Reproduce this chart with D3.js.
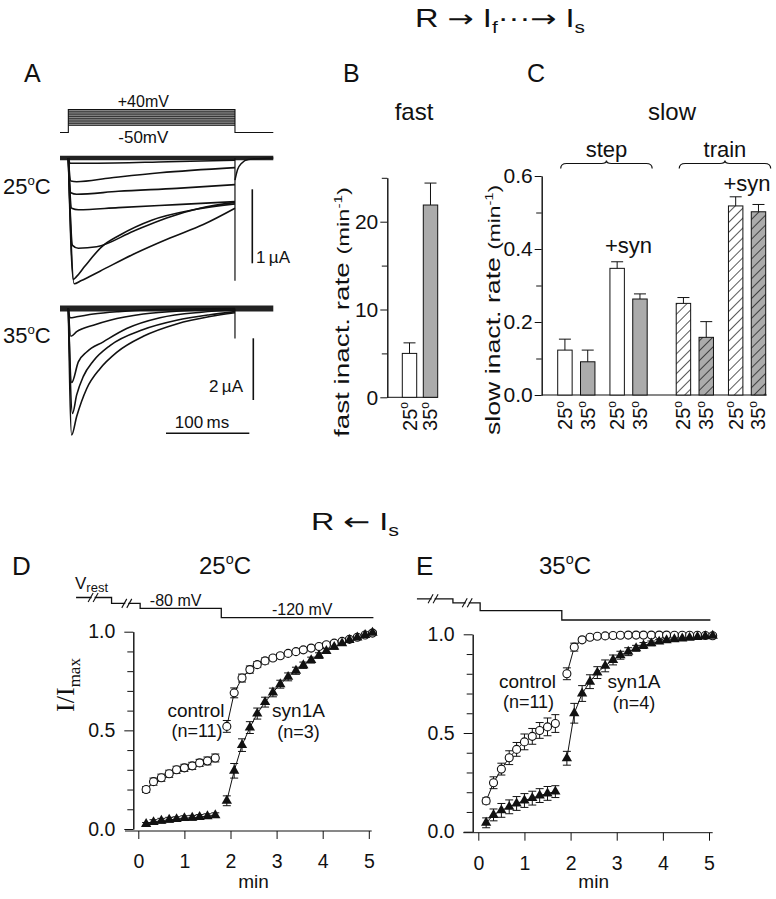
<!DOCTYPE html>
<html><head><meta charset="utf-8"><title>Figure</title>
<script src="https://cdn.jsdelivr.net/npm/d3@7"></script>
<style>
html,body{margin:0;padding:0;background:#fff;}
svg{display:block;}
text{font-family:"Liberation Sans",Arial,Helvetica,sans-serif;fill:#111;}
</style></head>
<body>
<svg id="fig" width="776" height="899" viewBox="0 0 776 899"></svg>
<script>
// ================= DATA =================
// Panel A: voltage protocol (mV)
const pulseLevels = [-50,-40,-30,-20,-10,0,10,20,30,40];
const holdingLevel = -90;
const pulseWindow = [0,200];          // ms
const traceWindow = [-10,246];        // ms
// Panel A current traces: [time ms, inward current µA]
const traces25 = [
  [[0,0],[2,0.07],[30,0.07],[120,0.05],[200,0.03]],
  [[0,0],[3,0.31],[10,0.32],[50,0.27],[110,0.2],[200,0.13]],
  [[0,0],[3,0.47],[10,0.49],[60,0.45],[130,0.41],[200,0.36]],
  [[0,0],[4,0.68],[12,0.7],[60,0.67],[130,0.63],[200,0.59]],
  [[0,0],[5,1.18],[12,1.22],[34,1.2],[78,0.99],[118,0.81],[158,0.68],[200,0.6]],
  [[0,0],[6,1.64],[10,1.6],[20,1.46],[40,1.2],[62,1.04],[100,0.84],[150,0.7],[200,0.62]],
  [[0,0],[7,1.7],[15,1.66],[38,1.53],[78,1.3],[122,1.08],[162,0.9],[200,0.68]]
];
const traces35 = [
  [[0,0],[2,0.3],[10,0.27],[30,0.18],[60,0.1],[100,0.04],[200,0]],
  [[0,0],[3,0.9],[10,0.75],[30,0.54],[50,0.38],[90,0.18],[140,0.07],[200,0.02]],
  [[0,0],[4,2.4],[12,1.73],[22,1.41],[42,1.08],[70,0.65],[110,0.3],[160,0.12],[200,0.05]],
  [[0,0],[5,3.4],[10,2.8],[18,2.2],[30,1.7],[50,1.2],[90,0.68],[130,0.38],[170,0.2],[200,0.1]],
  [[0,0],[4,4.1],[10,3.5],[22,2.6],[38,1.95],[58,1.42],[90,0.9],[130,0.5],[170,0.26],[200,0.14]]
];
const spike25 = 1.66, spike35 = 0.97;
const tail25 = [[200,0.3],[203,0.16],[208,0.07],[216,0.02],[246,0]];
const scaleBar25 = 1, scaleBar35 = 2, timeBar = 100;

// Panel B: fast inactivation rate (min^-1)
const fastTemps = ["25","35"];
const fastRate = [5.0, 21.9];
const fastErr = [1.2, 2.5];
const fastMajorTicks = [0,10,20];
const fastMinorTicks = [5,15,25];

// Panel C: slow inactivation rate (min^-1)
const slowModes = ["step","train"];
const slowConds = ["control","+syn"];
const slowTemps = ["25","35"];
const slowRate = [0.123,0.091,0.347,0.263,0.251,0.158,0.518,0.502];
const slowErr  = [0.030,0.032,0.018,0.014,0.016,0.043,0.025,0.020];
const slowMajorTicks = [0,0.2,0.4,0.6];
const slowMinorTicks = [0.1,0.3,0.5];

// Panels D/E: recovery, I/Imax vs time (min)
const tSeg1 = [0.17,0.33,0.5,0.67,0.83,1.0,1.17,1.33,1.5,1.67];
const tSeg2 = [1.92,2.08,2.25,2.42,2.58,2.75,2.92,3.08,3.25,3.42,3.58,3.75,3.92,4.08,4.25,4.42,4.58,4.75,4.92,5.08];

const ctrl25a = [0.20,0.24,0.26,0.28,0.30,0.31,0.32,0.335,0.345,0.36];
const ctrl25b = [0.52,0.69,0.765,0.808,0.833,0.852,0.867,0.878,0.89,0.899,0.908,0.917,0.925,0.934,0.942,0.951,0.961,0.972,0.983,0.993];
const syn25a  = [0.025,0.035,0.042,0.047,0.05,0.055,0.057,0.061,0.065,0.07];
const syn25b  = [0.143,0.295,0.425,0.514,0.585,0.643,0.692,0.734,0.771,0.802,0.83,0.856,0.879,0.902,0.923,0.941,0.958,0.971,0.983,0.995];
const ctrl25aErr = [0.015,0.018,0.018,0.018,0.018,0.018,0.018,0.018,0.02,0.02];
const ctrl25bErr = [0.03,0.025,0.02,0.018,0.015,0.015,0.012,0.012,0.01,0.01,0.01,0.01,0.01,0.01,0.01,0.01,0.01,0.008,0.008,0.008];
const syn25aErr  = [0.008,0.012,0.012,0.012,0.012,0.012,0.012,0.012,0.012,0.012];
const syn25bErr  = [0.025,0.037,0.032,0.03,0.028,0.025,0.022,0.02,0.02,0.018,0.016,0.015,0.014,0.012,0.012,0.01,0.01,0.01,0.008,0.008];

const ctrl35a = [0.156,0.248,0.317,0.375,0.417,0.455,0.483,0.513,0.531,0.548];
const ctrl35b = [0.80,0.935,0.972,0.985,0.99,0.992,0.994,0.995,0.996,0.996,0.996,0.996,0.996,0.996,0.995,0.995,0.995,0.995,0.994,0.993];
const syn35a  = [0.045,0.085,0.108,0.126,0.143,0.158,0.17,0.183,0.194,0.203];
const syn35b  = [0.372,0.60,0.70,0.76,0.806,0.84,0.87,0.894,0.912,0.929,0.943,0.954,0.963,0.97,0.975,0.979,0.983,0.986,0.99,0.993];
const ctrl35aErr = [0.015,0.03,0.03,0.035,0.035,0.04,0.04,0.04,0.045,0.045];
const ctrl35bErr = [0.03,0.02,0.01,0.008,0.006,0.005,0.005,0.005,0.005,0.005,0.005,0.005,0.005,0.005,0.005,0.005,0.005,0.005,0.005,0.005];
const syn35aErr  = [0.025,0.03,0.035,0.035,0.035,0.035,0.035,0.035,0.035,0.03];
const syn35bErr  = [0.035,0.05,0.04,0.035,0.03,0.03,0.025,0.02,0.02,0.015,0.015,0.012,0.01,0.01,0.01,0.008,0.008,0.008,0.008,0.008];

const recXTicks = [0,1,2,3,4,5];
const recYMajor = [0,0.5,1];
const recYMinor = [0.1,0.2,0.3,0.4,0.6,0.7,0.8,0.9];

// Protocols for D/E: [time min, mV] (step after)
const protoD = [[-1.35,-34],[-0.58,-59],[0.04,-80],[1.8,-120],[5.1,-120]];
const protoE = [[-1.33,-30],[-0.55,-47],[0.04,-80],[1.81,-120],[5.03,-120]];
const breaksD = [-0.98,-0.25];
const breaksE = [-0.98,-0.24];

// ================= DRAW =================
const FONT = "Liberation Sans, Arial, Helvetica, sans-serif";
const SERIF = "Liberation Serif, Times New Roman, serif";
const ARROWFONT = "DejaVu Sans, sans-serif";
const INK = "#111";
const svg = d3.select("#fig");
const defs = svg.append("defs");
defs.append("pattern").attr("id","hatch").attr("patternUnits","userSpaceOnUse")
  .attr("width",7).attr("height",7).attr("patternTransform","rotate(45)")
  .append("line").attr("x1",0).attr("y1",0).attr("x2",0).attr("y2",7)
  .attr("stroke",INK).attr("stroke-width",1.4);

function label(g, x, y, parts, size, anchor, extra) {
  const t = g.append("text").attr("x",x).attr("y",y).attr("font-size",size)
    .attr("text-anchor",anchor||"start");
  parts.forEach(p => {
    if (typeof p === "string") t.append("tspan").text(p);
    else {
      const s = t.append("tspan").text(p.t);
      if (p.size) s.attr("font-size",p.size);
      if (p.dy) s.attr("dy",p.dy);
      if (p.family) s.attr("font-family",p.family);
    }
  });
  if (extra) extra(t);
  return t;
}
const deg = (n, size) => [n, {t:"o", size:size*0.6, dy:-size*0.42}];
const degC = (n, size) => deg(n,size).concat([{t:"C", dy:size*0.42}]);

// ---- header texts ----
label(svg, 500, 27, ["R ", {t:"\u2192",size:24,family:ARROWFONT}, " I", {t:"f",size:16,dy:6}, {t:"\u00B7\u00B7\u00B7",dy:-6}, {t:"\u2192",size:24,family:ARROWFONT}, " I", {t:"s",size:16,dy:6}], 25, "middle",
  t => t.attr("textLength",170).attr("lengthAdjust","spacingAndGlyphs"));
label(svg, 355, 530, ["R ", {t:"\u2190",size:24,family:ARROWFONT}, " I", {t:"s",size:16,dy:6}], 24, "middle",
  t => t.attr("textLength",88).attr("lengthAdjust","spacingAndGlyphs"));

// ---- Panel A ----
const gA = svg.append("g");
label(gA, 24, 82, ["A"], 25);
const tA = d3.scaleLinear().domain(traceWindow).range([60,273.3]);
const vA = d3.scaleLinear().domain([holdingLevel,40]).range([132.5,109.5]);
const vMax = d3.max(pulseLevels), vMin = d3.min(pulseLevels);
gA.append("rect").attr("x",tA(pulseWindow[0])).attr("width",tA(pulseWindow[1])-tA(pulseWindow[0]))
  .attr("y",vA(vMax)).attr("height",vA(vMin)-vA(vMax)).attr("fill","#a0a0a0");
gA.selectAll(".lvl").data(pulseLevels).join("line")
  .attr("x1",tA(pulseWindow[0])).attr("x2",tA(pulseWindow[1]))
  .attr("y1",d=>vA(d)).attr("y2",d=>vA(d)).attr("stroke","#222").attr("stroke-width",0.9);
const protoA = [[traceWindow[0],holdingLevel],[pulseWindow[0],holdingLevel],[pulseWindow[0],vMax],
  [pulseWindow[1],vMax],[pulseWindow[1],holdingLevel],[traceWindow[1],holdingLevel]];
gA.append("path").attr("d", d3.line().x(d=>tA(d[0])).y(d=>vA(d[1]))(protoA))
  .attr("fill","none").attr("stroke",INK).attr("stroke-width",1.1);
label(gA, tA(90), 107, ["+40mV"], 16, "middle");
label(gA, tA(90), 143, ["-50mV"], 17, "middle");

const yA25 = d3.scaleLinear().domain([0,1]).range([158,232]);
const yA35 = d3.scaleLinear().domain([0,1]).range([308.5,339.35]);
function drawTraces(ys, traces, spike, bandW) {
  const ln = d3.line().x(d=>tA(d[0])).y(d=>ys(d[1])).curve(d3.curveMonotoneX);
  gA.append("path").attr("d", ln([[traceWindow[0],0],[traceWindow[1],0]]))
    .attr("fill","none").attr("stroke","#222").attr("stroke-width",bandW);
  traces.forEach(tr => gA.append("path").attr("d", ln(tr)).attr("fill","none")
    .attr("stroke",INK).attr("stroke-width",1.6).attr("stroke-linejoin","round"));
  gA.append("line").attr("x1",tA(pulseWindow[1])).attr("x2",tA(pulseWindow[1]))
    .attr("y1",ys(0)).attr("y2",ys(spike)).attr("stroke",INK).attr("stroke-width",1.2);
  return ln;
}
const ln25 = drawTraces(yA25, traces25, spike25, 4.5);
gA.append("path").attr("d", ln25(tail25)).attr("fill","none").attr("stroke",INK).attr("stroke-width",1.5);
drawTraces(yA35, traces35, spike35, 6);

label(gA, 3, 194, degC("25",22), 22);
label(gA, 3, 343, degC("35",22), 22);
// scale bars
gA.append("line").attr("x1",252.3).attr("x2",252.3).attr("y1",189.3)
  .attr("y2",189.3 + (yA25(scaleBar25)-yA25(0))).attr("stroke",INK).attr("stroke-width",1.6);
label(gA, 256, 263, ["1\u2009\u00B5A"], 17);
gA.append("line").attr("x1",253.3).attr("x2",253.3).attr("y1",338.3)
  .attr("y2",338.3 + (yA35(scaleBar35)-yA35(0))).attr("stroke",INK).attr("stroke-width",1.6);
label(gA, 243, 392, ["2\u2009\u00B5A"], 17, "end");
gA.append("line").attr("x1",166).attr("x2",166 + tA(timeBar)-tA(0)).attr("y1",433.3).attr("y2",433.3)
  .attr("stroke",INK).attr("stroke-width",1.6);
label(gA, 202, 428, ["100\u2009ms"], 17, "middle");

// ---- generic axis helper ----
function styleAxis(sel, size) {
  sel.attr("font-family",FONT).attr("font-size",size).attr("color",INK);
  sel.selectAll("path,line").attr("stroke",INK).attr("stroke-width",1);
  return sel;
}

// ---- Panel B ----
const gB = svg.append("g");
label(gB, 343, 82, ["B"], 25);
label(gB, 414, 120, ["fast"], 24, "middle");
const yB = d3.scaleLinear().domain([0,25]).range([397.3,177.8]);
const xB = d3.scaleBand().domain(fastTemps).range([402.3,437.7]).paddingInner(0.314);
styleAxis(gB.append("g").attr("transform","translate(387.3,0)")
  .call(d3.axisLeft(yB).tickValues(fastMinorTicks).tickSize(5.5).tickSizeOuter(0).tickFormat("")), 20);
styleAxis(gB.append("g").attr("transform","translate(387.3,0)")
  .call(d3.axisLeft(yB).tickValues(fastMajorTicks).tickSize(7).tickSizeOuter(0).tickPadding(2)), 21);
gB.append("line").attr("x1",387.3).attr("x2",xB.range()[1]).attr("y1",yB(0)).attr("y2",yB(0)).attr("stroke",INK);
const fastData = fastTemps.map((k,i)=>({k, v:fastRate[i], e:fastErr[i]}));
gB.selectAll(".bar").data(fastData).join("rect")
  .attr("x",d=>xB(d.k)).attr("width",xB.bandwidth())
  .attr("y",d=>yB(d.v)).attr("height",d=>yB(0)-yB(d.v))
  .attr("fill",d=>d.k==="25"?"#fff":"#ababab").attr("stroke",INK).attr("stroke-width",1);
gB.selectAll(".eb").data(fastData).join("path")
  .attr("d",d=>{const c=xB(d.k)+xB.bandwidth()/2, w=6; return `M${c},${yB(d.v)}V${yB(d.v+d.e)}M${c-w},${yB(d.v+d.e)}H${c+w}`;})
  .attr("stroke",INK).attr("fill","none").attr("stroke-width",1);
fastData.forEach(d=>{
  const c = xB(d.k)+xB.bandwidth()/2;
  label(gB, 0, 0, deg(d.k,20), 20, "end", t=>t.attr("transform",`translate(${c+7},402) rotate(-90)`));
});
label(gB, 0, 0, ["fast inact. rate ", {t:"(min",size:17}, {t:"-1",size:11,dy:-7}, {t:")",size:17,dy:7}], 20, "middle",
  t=>t.attr("transform","translate(349,312) rotate(-90)").attr("textLength",250).attr("lengthAdjust","spacingAndGlyphs"));

// ---- Panel C ----
const gC = svg.append("g");
label(gC, 527, 82, ["C"], 25);
label(gC, 672, 120, ["slow"], 24, "middle");
const yC = d3.scaleLinear().domain([0,0.6]).range([395,176]);
const xMode = d3.scaleBand().domain(slowModes).range([557.7,765.7]).paddingInner(0.245);
const xCond = d3.scaleBand().domain(slowConds).range([0,xMode.bandwidth()]).paddingInner(0.287);
const xTemp = d3.scaleBand().domain(slowTemps).range([0,xCond.bandwidth()]).paddingInner(0.367);
styleAxis(gC.append("g").attr("transform","translate(541.7,0)")
  .call(d3.axisLeft(yC).tickValues(slowMinorTicks).tickSize(5.5).tickSizeOuter(0).tickFormat("")), 20);
styleAxis(gC.append("g").attr("transform","translate(541.7,0)")
  .call(d3.axisLeft(yC).tickValues(slowMajorTicks).tickSize(7).tickSizeOuter(0).tickPadding(2).tickFormat(d3.format(".1f"))), 21);
gC.append("line").attr("x1",541.7).attr("x2",xMode.range()[1]+1).attr("y1",yC(0)).attr("y2",yC(0)).attr("stroke",INK);
const slowData = [];
let si = 0;
slowModes.forEach(m=>slowConds.forEach(c=>slowTemps.forEach(t=>{
  slowData.push({m,c,t,v:slowRate[si],e:slowErr[si],x:xMode(m)+xCond(c)+xTemp(t)}); si++;
})));
const bw = xTemp.bandwidth();
gC.selectAll(".barC").data(slowData).join("rect")
  .attr("x",d=>d.x).attr("width",bw).attr("y",d=>yC(d.v)).attr("height",d=>yC(0)-yC(d.v))
  .attr("fill",d=>d.t==="25"?"#fff":"#ababab");
gC.selectAll(".hatchC").data(slowData.filter(d=>d.m==="train")).join("rect")
  .attr("x",d=>d.x).attr("width",bw).attr("y",d=>yC(d.v)).attr("height",d=>yC(0)-yC(d.v))
  .attr("fill","url(#hatch)");
gC.selectAll(".outC").data(slowData).join("rect")
  .attr("x",d=>d.x).attr("width",bw).attr("y",d=>yC(d.v)).attr("height",d=>yC(0)-yC(d.v))
  .attr("fill","none").attr("stroke",INK).attr("stroke-width",1);
gC.selectAll(".ebC").data(slowData).join("path")
  .attr("d",d=>{const c=d.x+bw/2, w=6; return `M${c},${yC(d.v)}V${yC(d.v+d.e)}M${c-w},${yC(d.v+d.e)}H${c+w}`;})
  .attr("stroke",INK).attr("fill","none").attr("stroke-width",1);
slowData.forEach(d=>{
  label(gC, 0, 0, deg(d.t,20), 20, "end", t=>t.attr("transform",`translate(${d.x+bw/2+7},401) rotate(-90)`));
});
// brackets
slowModes.forEach(m=>{
  const x1 = xMode(m)+3, x2 = xMode(m)+xMode.bandwidth()+5, mid=(x1+x2)/2, y=163.5;
  gC.append("path").attr("d",`M${x1},${y+5} Q${x1},${y} ${x1+6},${y} L${mid-5},${y} Q${mid},${y} ${mid},${y-3} Q${mid},${y} ${mid+5},${y} L${x2-6},${y} Q${x2},${y} ${x2},${y+5}`)
    .attr("fill","none").attr("stroke",INK).attr("stroke-width",1.2);
  label(gC, mid, 157, [m], 22, "middle");
});
// +syn labels
label(gC, xMode("step")+xCond("+syn")+xCond.bandwidth()/2, yC(0.39), ["+syn"], 22, "middle");
label(gC, xMode("train")+xCond("+syn")+xCond.bandwidth()/2, yC(0.56), ["+syn"], 22, "middle");
label(gC, 0, 0, ["slow inact. rate ", {t:"(min",size:17}, {t:"-1",size:11,dy:-7}, {t:")",size:17,dy:7}], 20, "middle",
  t=>t.attr("transform","translate(500,310) rotate(-90)").attr("textLength",250).attr("lengthAdjust","spacingAndGlyphs"));

// ---- Panels D / E ----
function drawRecovery(cfg) {
  const g = svg.append("g");
  const x = d3.scaleLinear().domain([0,5]).range([cfg.x0, cfg.x5]);
  const y = d3.scaleLinear().domain([0,1]).range([cfg.y0, cfg.y1]);
  label(g, cfg.letterX, 575, [cfg.letter], 26);
  label(g, cfg.titleX, 574, degC(cfg.temp,24), 24, "middle");
  styleAxis(g.append("g").attr("transform",`translate(${cfg.axisX},0)`)
    .call(d3.axisLeft(y).tickValues(recYMinor).tickSize(6).tickSizeOuter(0).tickFormat("")), 19);
  styleAxis(g.append("g").attr("transform",`translate(${cfg.axisX},0)`)
    .call(d3.axisLeft(y).tickValues(recYMajor).tickSize(9).tickSizeOuter(0).tickPadding(9).tickFormat(d3.format(".1f"))), 19.5);
  const xa = styleAxis(g.append("g").attr("transform",`translate(0,${cfg.xAxisY})`)
    .call(d3.axisBottom(x).tickValues(recXTicks).tickSize(8).tickSizeOuter(0).tickPadding(15).tickFormat(d3.format("d"))), 19.5);
  xa.select(".domain").remove();
  g.append("line").attr("x1",cfg.xL).attr("x2",cfg.xR).attr("y1",cfg.xAxisY).attr("y2",cfg.xAxisY).attr("stroke",INK);
  label(g, (x(0)+x(5))/2, 888, ["min"], 19, "middle");

  // protocol
  const py = d3.scaleLinear().domain([-120,-80]).range([cfg.p120, cfg.p120-9.4]);
  g.append("path").attr("d", d3.line().x(d=>x(d[0])).y(d=>py(d[1])).curve(d3.curveStepAfter)(cfg.proto))
    .attr("fill","none").attr("stroke",INK).attr("stroke-width",1.3);
  cfg.breaks.forEach(b=>{
    const bx = x(b);
    const segLevel = cfg.proto.filter(p=>p[0]<=b).slice(-1)[0][1];
    const by = py(segLevel);
    g.append("rect").attr("x",bx-1.5).attr("y",by-2).attr("width",3).attr("height",4).attr("fill","#fff");
    [-2.5,2.5].forEach(o=>g.append("line").attr("x1",bx+o-2.5).attr("y1",by+4.5).attr("x2",bx+o+2.5).attr("y2",by-4.5)
      .attr("stroke",INK).attr("stroke-width",1.1));
  });
  cfg.protoLabels.forEach(l=>label(g, x(l.t), py(l.v)-2.5, [l.s], 16));

  // data series
  const series = [
    {t:tSeg1, v:cfg.ctrlA, e:cfg.ctrlAErr, kind:"c"},
    {t:tSeg2, v:cfg.ctrlB, e:cfg.ctrlBErr, kind:"c"},
    {t:tSeg1, v:cfg.synA, e:cfg.synAErr, kind:"s"},
    {t:tSeg2, v:cfg.synB, e:cfg.synBErr, kind:"s"}
  ];
  const ln = d3.line().x(d=>x(d[0])).y(d=>y(d[1]));
  series.forEach(s=>{
    const pts = s.t.map((t,i)=>[t,s.v[i],s.e[i]]);
    g.append("path").attr("d",ln(pts)).attr("fill","none").attr("stroke",INK).attr("stroke-width",1);
    g.append("g").selectAll("path").data(pts).join("path")
      .attr("d",d=>{const cx=x(d[0]), w=4; return `M${cx},${y(d[1]-d[2])}V${y(d[1]+d[2])}M${cx-w},${y(d[1]+d[2])}H${cx+w}M${cx-w},${y(d[1]-d[2])}H${cx+w}`;})
      .attr("stroke",INK).attr("stroke-width",1).attr("fill","none");
  });
  series.forEach(s=>{
    const pts = s.t.map((t,i)=>[t,s.v[i]]);
    if (s.kind==="c") {
      g.append("g").selectAll("circle").data(pts).join("circle")
        .attr("cx",d=>x(d[0])).attr("cy",d=>y(d[1])).attr("r",4)
        .attr("fill","#fff").attr("stroke",INK).attr("stroke-width",1.1);
    } else {
      g.append("g").selectAll("path").data(pts).join("path")
        .attr("d",d3.symbol(d3.symbolTriangle,46)())
        .attr("transform",d=>`translate(${x(d[0])},${y(d[1])})`).attr("fill",INK);
    }
  });
  // series labels
  label(g, cfg.ctrlLab[0], cfg.ctrlLab[1], ["control"], 19, "middle");
  label(g, cfg.ctrlLab[0]+1, cfg.ctrlLab[1]+20, ["(n=11)"], 18, "middle");
  label(g, cfg.synLab[0], cfg.synLab[1], ["syn1A"], 19, "middle");
  label(g, cfg.synLab[0], cfg.synLab[1]+21, [cfg.synN], 18, "middle");
  return {x,y,g};
}

const D = drawRecovery({letter:"D", letterX:12, temp:"25", titleX:225,
  x0:138.3, x5:368.8, y0:829, y1:631.7, axisX:133.3, xAxisY:831, xL:125, xR:371.7,
  p120:617.7, proto:protoD, breaks:breaksD,
  protoLabels:[{t:0.25,v:-80,s:"-80 mV"},{t:2.9,v:-120,s:"-120 mV"}],
  ctrlA:ctrl25a, ctrlB:ctrl25b, synA:syn25a, synB:syn25b,
  ctrlAErr:ctrl25aErr, ctrlBErr:ctrl25bErr, synAErr:syn25aErr, synBErr:syn25bErr,
  ctrlLab:[196,717], synLab:[298.5,717], synN:"(n=3)"});
// Vrest label and I/Imax title on D
label(D.g, 75, 589, ["V", {t:"rest",size:13,dy:3}], 17);
label(D.g, 0, 0, [{t:"I/I",family:SERIF}, {t:"max",size:17,dy:6,family:SERIF}], 26, "middle",
  t=>t.attr("transform","translate(74,685) rotate(-90)").attr("font-family",SERIF));

drawRecovery({letter:"E", letterX:416, temp:"35", titleX:565,
  x0:478.3, x5:709, y0:831.7, y1:634.3, axisX:472.7, xAxisY:832.7, xL:463.3, xR:712.7,
  p120:620, proto:protoE, breaks:breaksE, protoLabels:[],
  ctrlA:ctrl35a, ctrlB:ctrl35b, synA:syn35a, synB:syn35b,
  ctrlAErr:ctrl35aErr, ctrlBErr:ctrl35bErr, synAErr:syn35aErr, synBErr:syn35bErr,
  ctrlLab:[527.5,688], synLab:[634,688], synN:"(n=4)"});
</script>
</body></html>
